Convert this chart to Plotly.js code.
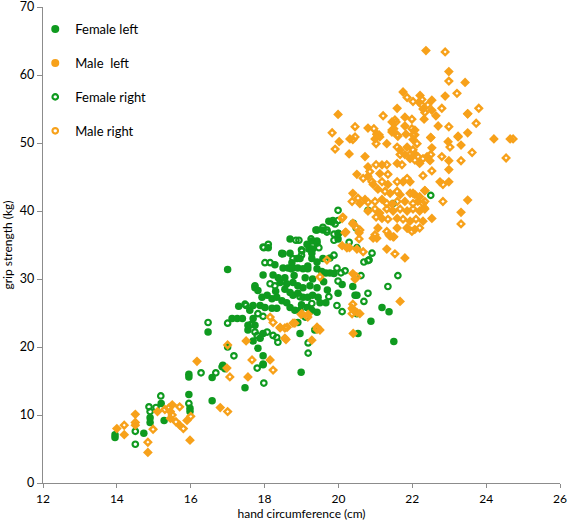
<!DOCTYPE html>
<html>
<head>
<meta charset="utf-8">
<script src="https://cdn.plot.ly/plotly-3.0.1.min.js"></script>
<style>html,body{margin:0;padding:0;background:#fff;}#chart{width:567px;height:522px;}</style>
</head>
<body>
<div id="chart"></div>
<script>
// ---- Data ----
var femaleLeftX = [13.95,13.95,14.73,14.9,14.9,15.28,15.2,15.95,15.98,15.98,16.58,
  15.95,15.95,16.58,16.47,16.87,16.93,17.0,17.47,17.3,17.12,17.26,17.4,17.55,17.69,17.82,17.96,17.96,18.99,17.0,
  17.69,17.55,17.74,17.6,17.69,17.88,18.01,18.2,18.33,18.69,18.82,18.96,19.15,19.28,19.42,
  17.93,18.07,18.2,18.33,18.47,18.6,
  18.69,18.77,18.9,19.04,19.17,19.3,19.45,19.5,19.66,19.99,20.45,
  17.74,17.82,18.42,18.6,18.77,18.9,19.04,19.23,19.42,
  17.96,18.23,18.37,18.55,
  18.5,18.64,18.77,18.9,19.04,19.17,18.28,19.42,19.55,19.66,19.77,19.88,
  18.47,18.69,18.88,19.58,19.77,19.28,19.42,
  18.1,19.2,19.3,18.69,19.28,19.42,19.99,19.42,19.58,19.74,20.4,19.83,19.99,19.39,
  17.96,17.88,18.96,18.9,19.36,20.53,20.39,20.5,21.18,21.37,20.88,21.5,
  18.5,18.74,18.96,19.17,19.15,19.42,19.28,18.3,18.55,19.1,19.3,19.6,19.0,19.7,18.8,20.1];
var femaleLeftY = [7.1,6.7,7.3,9.6,8.9,9.2,11.7,13.0,11.0,10.5,12.1,
  16.0,15.6,15.5,22.2,17.3,16.8,20.0,14.0,26.0,24.2,24.2,24.2,22.5,20.9,19.8,18.7,17.4,16.3,31.4,
  24.2,23.2,23.2,25.4,26.1,26.1,25.8,25.7,25.7,25.8,25.4,25.4,25.8,25.4,25.1,
  27.3,27.6,27.1,27.3,26.8,26.5,
  28.0,27.6,27.9,27.3,27.3,27.6,27.3,26.5,26.5,27.9,27.6,
  28.7,28.3,29.5,29.3,29.5,29.0,28.7,29.0,28.7,
  30.6,30.6,30.2,30.2,
  31.6,31.6,31.6,31.6,31.5,31.5,32.1,31.5,31.1,30.9,30.9,30.8,
  33.8,33.8,33.0,33.0,33.1,33.0,32.5,
  34.6,34.4,34.4,35.9,35.6,35.6,35.9,37.2,37.2,38.5,38.2,38.4,36.7,37.2,
  22.0,21.3,22.0,23.6,22.5,22.0,28.9,27.6,25.8,25.2,23.8,20.8,
  33.7,32.4,33.0,31.9,35.1,35.3,33.8,28.2,28.5,30.2,30.0,29.6,26.2,28.4,30.5,29.2];

var femaleRightX = [15.19,14.87,15.06,14.9,14.5,14.5,15.95,16.47,16.28,16.68,17.17,16.85,17.5,17.0,17.63,17.74,17.8,17.8,17.96,17.98,19.18,19.18,
  19.85,19.99,19.69,20.0,19.88,18.85,18.93,17.98,19.47,20.5,19.01,18.77,19.88,18.01,18.15,18.72,19.96,20.07,20.18,19.99,18.15,18.28,17.74,18.96,19.28,19.74,19.96,17.47,17.82,17.96,19.1,18.07,18.23,18.33,18.36,
  20.29,20.91,20.69,20.83,20.61,21.61,21.34,20.8,20.69,20.5,20.1,
  19.99,19.91,19.58,19.69,19.88,20.48,20.8,18.1,17.96,18.47,19.0,19.0,19.26,19.31,
  20.8,21.48,22.5];
var femaleRightY = [12.8,11.2,11.1,10.5,7.6,5.7,11.7,23.6,16.2,16.2,18.7,17.1,26.1,23.5,23.3,22.2,21.7,16.9,17.5,14.7,20.6,19.1,
  38.6,38.6,37.2,36.7,35.7,35.7,35.7,34.6,34.6,34.6,34.1,33.0,33.5,32.4,32.4,31.5,31.6,30.9,31.2,29.7,29.3,29.0,29.0,27.4,26.4,27.4,26.1,26.3,24.9,24.5,24.4,22.2,21.7,21.4,20.7,
  35.4,33.8,32.5,32.8,30.5,30.5,28.9,27.9,26.7,24.9,25.2,
  40.1,38.1,37.6,36.9,36.6,37.5,32.7,35.1,34.7,33.7,34.3,33.5,35.9,35.1,
  40.1,41.1,42.3];

var maleLeftX = [14.0,14.2,14.5,14.5,14.84,15.98,15.45,15.45,15.7,15.9,16.8,15.1,15.5,
  16.17,16.98,17.5,18.15,17.55,18.58,18.42,18.77,19.18,18.42,19.01,18.82,19.5,19.28,20.5,20.37,20.39,20.58,21.67,20.39,20.45,20.1,20.5,20.3,20.56,21.04,21.5,21.31,21.8,20.2,20.39,20.94,20.4,
  20.31,20.02,20.29,21.12,21.31,21.83,22.02,21.86,21.67,22.07,21.8,21.59,21.94,22.2,22.4,20.72,21.18,20.8,21.12,20.5,20.8,20.94,21.34,21.75,21.94,21.07,21.4,21.67,22.07,20.39,20.72,20.58,21.18,21.45,21.8,22.15,20.8,21.12,21.48,21.86,22.2,21.18,21.59,21.94,22.29,20.39,21.07,21.59,22.07,
  22.5,23.5,22.97,23.32,24.21,24.65,22.53,22.48,22.99,22.99,22.75,22.99,22.34,22.2,23.5,22.32,23.32,22.53,21.86,21.4,
  22.37,22.99,23.43,21.75,22.89,22.21,22.18,22.29,22.53,22.53,22.64,21.59,23.5,21.8,21.45,22.32,21.8,22.07,21.45,22.7,23.24,19.99,20.8,21.04,20.99,21.5];
var maleLeftY = [8.0,7.1,10.1,8.5,4.5,6.3,10.5,9.5,8.5,9.2,11.1,10.5,11.5,
  17.9,16.9,20.9,18.1,15.6,21.1,22.8,23.5,24.8,22.9,24.9,23.5,22.5,21.0,25.1,25.7,25.5,24.9,26.7,30.8,30.0,34.9,34.4,34.6,36.8,36.0,36.2,34.4,33.1,36.9,38.1,36.0,22.0,
  50.6,50.2,48.4,50.9,49.9,51.3,50.5,49.4,49.0,48.4,48.3,47.0,47.7,47.0,48.0,48.0,46.8,46.5,45.5,45.4,45.1,43.9,43.9,44.3,44.3,43.2,42.6,42.4,42.4,42.6,41.7,41.1,41.7,41.0,41.4,41.4,40.0,39.7,40.0,40.0,40.0,38.9,38.9,38.5,38.5,38.2,37.5,37.5,37.3,
  50.8,51.5,50.2,49.7,50.6,50.6,49.3,47.4,47.4,46.1,44.3,44.3,43.0,42.1,41.6,40.5,39.8,38.9,37.5,36.3,
  63.6,60.5,58.9,57.5,56.9,57.0,56.0,55.0,56.3,54.8,54.0,55.1,54.3,53.8,53.1,53.5,52.5,51.9,51.9,52.5,50.9,54.2,52.2,51.3,50.6,52.1];

var maleRightX = [14.2,14.5,14.84,14.98,15.4,15.5,15.6,15.8,16.0,17.0,15.3,15.7,
  17.0,17.06,17.66,18.23,18.23,18.61,18.99,18.15,18.55,19.17,19.42,18.55,20.37,19.42,20.39,19.5,20.5,19.69,20.23,20.67,20.18,20.56,20.99,21.37,21.53,20.1,20.12,20.58,21.02,
  19.83,20.45,20.39,19.91,21.04,21.02,21.61,22.07,22.13,21.59,22.02,21.94,21.67,21.72,22.07,22.15,22.29,21.02,21.31,20.85,21.34,20.67,20.91,21.18,21.59,21.86,21.26,21.59,21.94,22.34,20.53,20.8,20.37,20.99,21.31,21.59,22.02,22.34,20.99,21.31,21.67,22.02,22.34,21.34,21.75,22.1,20.5,21.31,21.86,
  23.24,23.02,23.62,24.73,24.54,22.5,22.8,23.32,22.53,22.83,22.29,22.02,22.83,22.29,23.32,22.2,21.99,21.48,
  22.89,22.99,23.21,21.86,22.26,22.02,22.26,22.34,22.42,22.8,23.8,21.21,23.5,21.99,21.53,23.73,21.99,22.02,21.59,22.99,22.5,20.45,20.96,21.1,21.45,21.56];
var maleRightY = [8.5,8.9,6.0,7.9,11.0,10.0,9.0,8.0,9.8,10.5,10.8,11.2,
  20.3,15.6,18.1,16.6,23.6,22.9,24.8,24.4,22.8,24.4,22.9,21.3,24.9,22.6,26.3,30.3,30.3,32.8,34.6,34.0,36.8,35.9,36.5,36.5,33.7,38.9,39.1,37.2,39.1,
  51.5,50.9,50.5,49.1,51.3,49.9,51.0,51.2,49.9,49.4,49.0,48.3,48.3,46.8,47.5,48.0,47.7,46.8,46.8,45.8,45.4,44.8,44.3,44.3,44.3,44.8,42.9,42.9,42.6,43.0,41.9,41.3,41.4,41.4,41.1,41.4,41.1,41.4,40.3,40.3,40.3,40.3,40.3,38.8,38.8,38.8,37.5,37.0,37.5,
  51.0,49.4,48.6,50.6,47.8,48.3,48.0,47.4,45.9,43.9,45.2,42.6,41.4,41.1,38.1,37.5,37.0,36.2,
  63.4,59.1,57.3,56.7,56.4,56.1,55.6,54.5,55.6,55.1,55.1,54.0,54.3,53.5,53.4,52.9,52.1,51.2,51.2,52.4,50.8,52.4,52.1,51.2,51.6,53.1];

var legendNames = ["Female left", "Male  left", "Female right", "Male right"];

var GREEN = "#0f9a1f";
var ORANGE = "#f7a11a";

var traces = [
  {x: femaleLeftX, y: femaleLeftY, type: "scatter", mode: "markers", showlegend: false,
   marker: {symbol: "circle", size: 7.5, color: GREEN}},
  {x: femaleRightX, y: femaleRightY, type: "scatter", mode: "markers", showlegend: false,
   marker: {symbol: "circle-open", size: 5.5, color: GREEN, line: {width: 2.2, color: GREEN}}},
  {x: maleLeftX, y: maleLeftY, type: "scatter", mode: "markers", showlegend: false,
   marker: {symbol: "diamond", size: 7.5, color: ORANGE}},
  {x: maleRightX, y: maleRightY, type: "scatter", mode: "markers", showlegend: false,
   marker: {symbol: "diamond-open", size: 5, color: ORANGE, line: {width: 2.4, color: ORANGE}}},
  // legend entries
  {x: [null], y: [null], type: "scatter", mode: "markers", name: legendNames[0], legendgroup: "a",
   marker: {symbol: "circle", size: 8, color: GREEN}},
  {x: [null], y: [null], type: "scatter", mode: "markers", name: legendNames[1], legendgroup: "b",
   marker: {symbol: "circle", size: 8, color: ORANGE}},
  {x: [null], y: [null], type: "scatter", mode: "markers", name: legendNames[2], legendgroup: "c",
   marker: {symbol: "circle-open", size: 5.5, color: GREEN, line: {width: 2.2, color: GREEN}}},
  {x: [null], y: [null], type: "scatter", mode: "markers", name: legendNames[3], legendgroup: "d",
   marker: {symbol: "circle-open", size: 5.5, color: ORANGE, line: {width: 2.2, color: ORANGE}}}
];

var layout = {
  width: 567, height: 522,
  margin: {l: 43, r: 7, t: 7, b: 39},
  paper_bgcolor: "#fff", plot_bgcolor: "#fff",
  font: {family: "Lato, 'Open Sans', sans-serif", size: 12, color: "#111"},
  showlegend: true,
  legend: {x: -0.015, y: 0.985, xanchor: "left", yanchor: "top", bgcolor: "rgba(0,0,0,0)",
           font: {size: 13, color: "#000"}, tracegroupgap: 14, traceorder: "grouped"},
  xaxis: {range: [12, 26], dtick: 2, tick0: 12, showgrid: false, zeroline: false,
          showline: true, linecolor: "#8c8c8c", linewidth: 1.3, ticks: "outside", ticklen: 4,
          tickcolor: "#8c8c8c", tickfont: {size: 12, color: "#000"}, ticklabeloverflow: "allow",
          title: {text: "hand circumference (cm)", font: {size: 12, color: "#000"}, standoff: 5}},
  yaxis: {range: [0, 70], dtick: 10, tick0: 0, showgrid: false, zeroline: false,
          showline: true, linecolor: "#8c8c8c", linewidth: 1.3, ticks: "outside", ticklen: 5,
          tickcolor: "#8c8c8c", tickfont: {size: 12.5, color: "#000"}, ticklabeloverflow: "allow",
          title: {text: "grip strength (kg)", font: {size: 12, color: "#000"}, standoff: 6}}
};

Plotly.newPlot("chart", traces, layout, {displayModeBar: false, staticPlot: true});
</script>
</body>
</html>
